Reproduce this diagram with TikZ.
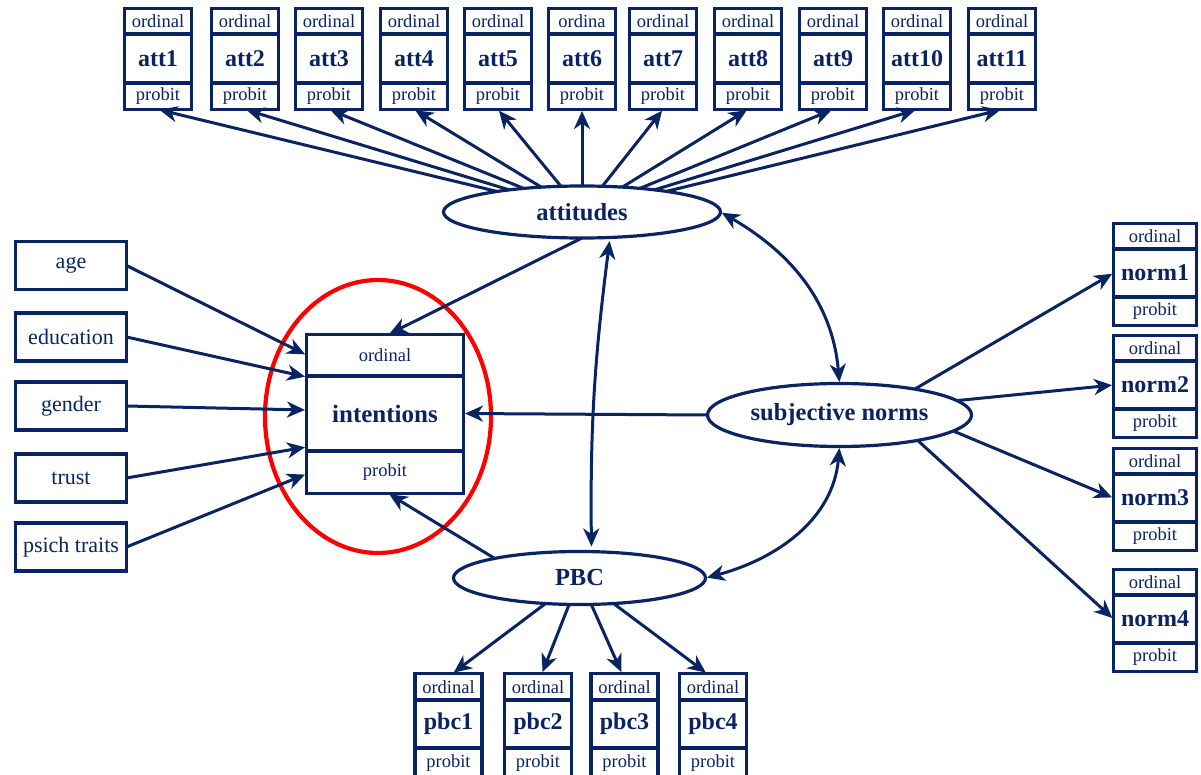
\documentclass[tikz,border=0pt]{standalone}
\usepackage{fontspec}
\setmainfont{Liberation Serif}
\usetikzlibrary{arrows.meta,shapes.geometric,calc}
\definecolor{navy}{HTML}{0A2463}
\newcommand{\mvsmall}{\fontsize{18.5pt}{20pt}\selectfont}
\newcommand{\mvbig}{\fontsize{24pt}{26pt}\selectfont\bfseries}
\newcommand{\mvmid}{\fontsize{22pt}{24pt}\selectfont}
\newcommand{\mvell}{\fontsize{24.5pt}{26pt}\selectfont\bfseries}
% #1 name, #2 x centre, #3 y top, #4 width, #5 top label, #6 label, #7 h1, #8 h2, #9 h3
\newcommand{\mvbox}[9]{%
  \node[cell, minimum width=#4pt, minimum height=#7pt, anchor=north, font=\mvsmall] (#1-o) at (#2,#3) {#5};
  \node[cell, minimum width=#4pt, minimum height=#8pt, anchor=north, font=\mvbig] (#1) at (#1-o.south) {#6};
  \node[cell, minimum width=#4pt, minimum height=#9pt, anchor=north, font=\mvsmall] (#1-p) at (#1.south) {probit};
}
\begin{document}
\begin{tikzpicture}[x=1pt, y=-1pt,
  cell/.style={rectangle, draw=navy, line width=3.4pt, inner sep=0pt, outer sep=0pt, text=navy},
  latent/.style={ellipse, draw=navy, line width=3.2pt, inner sep=0pt, outer sep=0pt, text=navy, font=\mvell},
  tipst/.tip={Stealth[length=18pt, width=16pt, inset=5.5pt]},
  conn/.style={draw=navy, line width=3pt, -tipst, shorten >=1.5pt},
  biconn/.style={draw=navy, line width=3pt, tipst-tipst, shorten >=1.5pt, shorten <=1.5pt}]
\useasboundingbox (0,0) rectangle (1201,775);
\fill[white] (0,0) rectangle (1201,775);

% red highlight
\node[ellipse, draw=red, line width=4.2pt, minimum width=226pt, minimum height=273pt, inner sep=0pt] (focus) at (378,416.5) {};

% indicator boxes (attitudes)
\mvbox{att1}{158}{8.5}{67}{ordinal}{att1}{25.5}{49}{26.5}
\mvbox{att2}{245}{8.5}{67}{ordinal}{att2}{25.5}{49}{26.5}
\mvbox{att3}{329}{8.5}{67}{ordinal}{att3}{25.5}{49}{26.5}
\mvbox{att4}{414}{8.5}{67}{ordinal}{att4}{25.5}{49}{26.5}
\mvbox{att5}{498}{8.5}{67}{ordinal}{att5}{25.5}{49}{26.5}
\mvbox{att6}{582}{8.5}{67}{ordina}{att6}{25.5}{49}{26.5}
\mvbox{att7}{663}{8.5}{67}{ordinal}{att7}{25.5}{49}{26.5}
\mvbox{att8}{748}{8.5}{67}{ordinal}{att8}{25.5}{49}{26.5}
\mvbox{att9}{833}{8.5}{67}{ordinal}{att9}{25.5}{49}{26.5}
\mvbox{att10}{917}{8.5}{67}{ordinal}{att10}{25.5}{49}{26.5}
\mvbox{att11}{1002}{8.5}{67}{ordinal}{att11}{25.5}{49}{26.5}

% norm boxes
\mvbox{norm1}{1155}{223.5}{83}{ordinal}{norm1}{25.5}{48}{28.5}
\mvbox{norm2}{1155}{335.5}{83}{ordinal}{norm2}{25.5}{48}{28.5}
\mvbox{norm3}{1155}{448.5}{83}{ordinal}{norm3}{25.5}{48}{28.5}
\mvbox{norm4}{1155}{569.5}{83}{ordinal}{norm4}{25.5}{48}{28.5}

% pbc boxes
\mvbox{pbc1}{448.5}{673.5}{67}{ordinal}{pbc1}{26.5}{48}{31}
\mvbox{pbc2}{538}{673.5}{67}{ordinal}{pbc2}{26.5}{48}{31}
\mvbox{pbc3}{624.5}{673.5}{67}{ordinal}{pbc3}{26.5}{48}{31}
\mvbox{pbc4}{713}{673.5}{67}{ordinal}{pbc4}{26.5}{48}{31}

% intentions
\mvbox{int}{385}{334.5}{157}{ordinal}{\fontsize{25pt}{27pt}\selectfont intentions}{41.5}{75}{42.5}

% covariates
\node[cell, minimum width=111pt, minimum height=48pt, font=\mvmid] (age) at (71,265.5) {age};
\node[cell, minimum width=111pt, minimum height=48pt, font=\mvmid] (edu) at (71,337) {education};
\node[cell, minimum width=111pt, minimum height=48pt, font=\mvmid] (gender) at (71,406) {gender};
\node[cell, minimum width=111pt, minimum height=48pt, font=\mvmid] (trust) at (71,478) {trust};
\node[cell, minimum width=111pt, minimum height=48pt, font=\mvmid] (psich) at (71,547) {psich traits};

% latent variables
\node[latent, minimum width=277pt, minimum height=52pt] (attitudes) at (582,212) {attitudes};
\node[latent, minimum width=264pt, minimum height=63pt] (sn) at (839.5,415) {subjective norms};
\node[latent, minimum width=252pt, minimum height=53pt] (pbc) at (579.5,578) {PBC};

% loadings
\foreach \i in {1,...,11} \draw[conn] (attitudes) -- (att\i-p.south);
\draw[conn] (sn.19) -- (norm1.west);
\draw[conn] (sn.7) -- (norm2.west);
\draw[conn] (sn.-8) -- (norm3.west);
\draw[conn] (sn.-18) -- (norm4.west);
\draw[conn] (pbc) -- ([xshift=4pt]pbc1-o.north);
\draw[conn] (pbc) -- ([xshift=4pt]pbc2-o.north);
\draw[conn] (pbc) -- ([xshift=-2.5pt]pbc3-o.north);
\draw[conn] (pbc) -- ([xshift=-6pt]pbc4-o.north);

% structural paths
\draw[conn] (attitudes.south) -- ([xshift=3pt]int-o.north);
\draw[conn] (sn.west) -- (int.east);
\draw[conn] (pbc.167) -- ([xshift=3pt]int-p.south);
\draw[conn] (age.east) -- ([yshift=58.5pt]int.west);
\draw[conn] (edu.east) -- ([yshift=36.5pt]int.west);
\draw[conn] (gender.east) -- ([yshift=3.5pt]int.west);
\draw[conn] (trust.east) -- ([yshift=-33.5pt]int.west);
\draw[conn] (psich.east) -- ([yshift=-60.5pt]int.west);

% covariances
\draw[biconn, shorten <=3pt, shorten >=5pt] ([xshift=28pt]attitudes.south) to[bend right=4] ([xshift=12pt]pbc.north);
\draw[biconn] (attitudes.east) to[out=-30, in=95] (sn.north);
\draw[biconn] (sn.south) to[out=-95, in=15] (pbc.east);
\end{tikzpicture}
\end{document}
